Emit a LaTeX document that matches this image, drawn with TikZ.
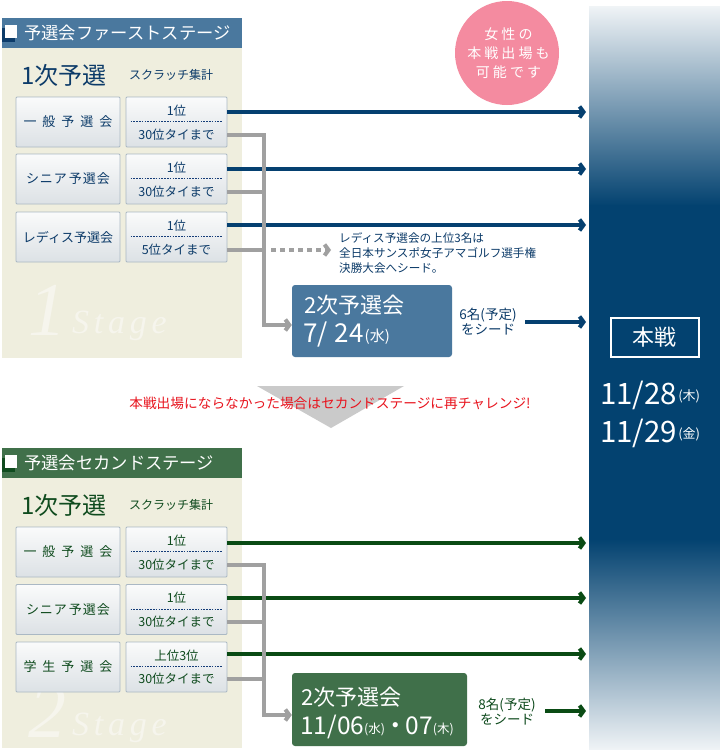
\documentclass[tikz,border=0pt]{standalone}
\usepackage{fontspec}
\setmainfont{Noto Sans CJK JP}
\newfontfamily\wmfont[LetterSpace=6]{Liberation Serif}
\newfontfamily\wmsfont[LetterSpace=14]{Liberation Serif}
\usetikzlibrary{arrows.meta,calc}
\newcommand\fsz[1]{\fontsize{#1}{#1}\selectfont}
\definecolor{navy}{RGB}{12,59,105}
\definecolor{arrowblue}{RGB}{5,64,112}
\definecolor{bardark}{RGB}{3,66,112}
\definecolor{hdrblue}{RGB}{74,120,158}
\definecolor{hdrgreen}{RGB}{64,112,74}
\definecolor{textgreen}{RGB}{15,75,30}
\definecolor{arrowgreen}{RGB}{10,75,20}
\definecolor{beige}{RGB}{239,238,222}
\definecolor{wmark}{RGB}{246,245,237}
\definecolor{greyln}{RGB}{160,160,160}
\definecolor{pinkc}{RGB}{244,139,160}
\definecolor{redc}{RGB}{232,20,30}
\definecolor{tri}{RGB}{202,202,202}
\definecolor{boxtop}{RGB}{250,251,251}
\definecolor{boxbot}{RGB}{220,225,229}
\definecolor{boxline}{RGB}{170,184,196}
\definecolor{dashc}{RGB}{20,60,120}
\tikzset{
  x=1pt, y=-1pt,
  anybox/.style={draw=boxline, line width=0.8pt, top color=boxtop, bottom color=boxbot,
    minimum height=50pt, inner sep=0pt, rounded corners=1pt},
  lbox/.style={anybox, minimum width=104pt, font=\fsz{13}},
  rbox/.style={anybox, minimum width=101pt},
  rtext/.style={inner sep=0pt, font=\fsz{12.5}},
  hdrtext/.style={anchor=west, text=white, font=\fsz{17.3}, inner sep=0pt},
  bigtext/.style={anchor=west, font=\fsz{24}, inner sep=0pt},
  smalltext/.style={anchor=west, font=\fsz{12}, inner sep=0pt},
  tip/.style={-{Straight Barb[length=4pt,width=11pt]}},
  bluearr/.style={draw=arrowblue, line width=4pt, tip},
  greenarr/.style={draw=arrowgreen, line width=4pt, tip},
  greyline/.style={draw=greyln, line width=4pt},
  greyarr/.style={greyline, tip},
  greydot/.style={greyline, dash pattern=on 5pt off 4pt, tip},
  dashln/.style={draw=dashc, line width=0.7pt, dash pattern=on 1.6pt off 1.2pt},
  wmbig/.style={text=wmark, font=\wmfont\itshape\fsz{76}, inner sep=0pt, anchor=base west},
  wmsmall/.style={text=wmark, font=\wmsfont\itshape\fsz{34}, inner sep=0pt, anchor=base west},
  qbox/.style={rounded corners=3pt, inner sep=0pt},
  seedtext/.style={align=center, font=\fontsize{13.5}{15}\selectfont, inner sep=0pt}
}
\begin{document}
\begin{tikzpicture}
\useasboundingbox (0,0) rectangle (720,750);
\fill[white] (0,0) rectangle (720,750);

% ---------- right bar ----------
\shade[top color=white!94!bardark, bottom color=bardark] (589,6) rectangle (720,206);
\fill[bardark] (589,205) rectangle (720,540);
\shade[top color=bardark, bottom color=white!94!bardark] (589,539) rectangle (720,750);

% ---------- stage 1 panel ----------
\fill[beige] (2,48) rectangle (242,358);
\fill[hdrblue] (2,18) rectangle (242,48);
\fill[navy] (2,28) rectangle (15,42);
\fill[white] (5,25) rectangle (17,38);
\node[hdrtext] (h1) at (24,33) {予選会ファーストステージ};
\node[wmbig] (w1) at (28,335) {1};
\node[wmsmall] (w1s) at (72,333) {Stage};
\node[bigtext, text=navy] (p1) at (21,75) {1次予選};
\node[smalltext, text=navy] (sc1) at (129,75) {スクラッチ集計};

\node[lbox, text=navy] (l1) at (68,122) {一\kern6pt 般\kern6pt 予\kern6pt 選\kern6pt 会};
\node[lbox, text=navy] (l2) at (68,179) {シ\kern1pt ニ\kern1pt ア\kern2pt 予\kern1pt 選\kern1pt 会};
\node[lbox, text=navy] (l3) at (68,237) {レディス予選会};
\node[rbox] (r1) at (176.5,122) {};
\node[rbox] (r2) at (176.5,179) {};
\node[rbox] (r3) at (176.5,237) {};
\foreach \r in {r1,r2,r3} \draw[dashln] ($(\r.west)+(5,-0.5)$) -- ($(\r.east)+(-5,-0.5)$);
\node[rtext, text=navy] (r1t) at (176.5,111) {1位};
\node[rtext, text=navy] (r1b) at (176.5,135) {30位タイまで};
\node[rtext, text=navy] (r2t) at (176.5,168) {1位};
\node[rtext, text=navy] (r2b) at (176.5,192) {30位タイまで};
\node[rtext, text=navy] (r3t) at (176.5,226) {1位};
\node[rtext, text=navy] (r3b) at (176.5,250) {5位タイまで};

% stage 1 2nd qualifier
\node[qbox, fill=hdrblue, minimum width=160pt, minimum height=72pt] (q1) at (372,321) {};
\node[anchor=west, text=white, font=\fsz{22}, inner sep=0pt] (q1a) at (304,305) {2次予選会};
\node[anchor=west, text=white, inner sep=0pt] (q1b) at (303,334) {\fsz{26}7/\kern7pt 24\kern1pt\raisebox{1pt}{\fsz{15}(水)}};
\node[seedtext, text=navy] (s1) at (488,322) {6名(予定)\\をシード};

% lady note
\node[anchor=north west, align=left, text=navy, font=\fontsize{11.6}{15}\selectfont, inner sep=0pt] (lady) at (339,232)
  {レディス予選会の上位3名は\\全日本サンスポ女子アマゴルフ選手権\\決勝大会へシード。};

% stage 1 connectors
\coordinate (e1) at (586,112);
\coordinate (e2) at (586,169);
\coordinate (e3) at (586,225);
\coordinate (e4) at (586,322);
\coordinate (k1) at (264,325);
\coordinate (d1) at (331,250);
\draw[bluearr] (r1.east |- e1) -- (e1);
\draw[bluearr] (r2.east |- e2) -- (e2);
\draw[bluearr] (r3.east |- e3) -- (e3);
\draw[greyline] (r2.east |- r2b) -- (r2b -| k1);
\draw[greyline] (r3.east |- r3b) -- (r3b -| k1);
\draw[greyarr] (r1.east |- r1b) -| (k1) -- (k1 -| q1.west);
\draw[greydot] ($(r3b -| k1)+(7,0)$) -- (d1);
\draw[bluearr] (525,322) -- (e4);

% pink circle
\node[circle, fill=pinkc, minimum size=104pt, inner sep=0pt, align=center, text=white,
  font=\fontsize{14}{19}\selectfont\addfontfeature{LetterSpace=22}] (pc) at (507,53)
  {\kern3pt 女性の\\\kern3pt 本戦出場も\\\kern3pt 可能です};

% main event
\node[draw=white, line width=2pt, minimum width=88pt, minimum height=39pt, inner sep=0pt, text=white, font=\fsz{22}] (hs) at (654.5,337) {本戦};
\node[anchor=west, text=white, inner sep=0pt] (d28) at (600,395) {\fsz{29.5}11/28\kern1pt\raisebox{4pt}{\fsz{13}(木)}};
\node[anchor=west, text=white, inner sep=0pt] (d29) at (600,433) {\fsz{29.5}11/29\kern1pt\raisebox{4pt}{\fsz{13}(金)}};

% down triangle + message
\fill[tri] (257,386) -- (404,386) -- (331,428) -- cycle;
\node[text=redc, font=\fsz{13.7}, inner sep=0pt] (msg) at (330,403) {本戦出場にならなかった場合はセカンドステージに再チャレンジ!};

% ---------- stage 2 panel ----------
\fill[beige] (2,478) rectangle (242,748);
\fill[hdrgreen] (2,448) rectangle (242,478);
\fill[textgreen] (2,458) rectangle (15,472);
\fill[white] (5,455) rectangle (17,468);
\node[hdrtext] (h2) at (24,463) {予選会セカンドステージ};
\node[wmbig] (w2) at (28,737) {2};
\node[wmsmall] (w2s) at (72,735) {Stage};
\node[bigtext, text=textgreen] (p2) at (21,505) {1次予選};
\node[smalltext, text=textgreen] (sc2) at (129,505) {スクラッチ集計};

\node[lbox, text=textgreen] (m1) at (68,552) {一\kern6pt 般\kern6pt 予\kern6pt 選\kern6pt 会};
\node[lbox, text=textgreen] (m2) at (68,609.5) {シ\kern1pt ニ\kern1pt ア\kern2pt 予\kern1pt 選\kern1pt 会};
\node[lbox, text=textgreen] (m3) at (68,667) {学\kern6pt 生\kern6pt 予\kern6pt 選\kern6pt 会};
\node[rbox] (g1) at (176.5,552) {};
\node[rbox] (g2) at (176.5,609.5) {};
\node[rbox] (g3) at (176.5,667) {};
\foreach \r in {g1,g2,g3} \draw[dashln] ($(\r.west)+(5,-0.5)$) -- ($(\r.east)+(-5,-0.5)$);
\node[rtext, text=textgreen] (g1t) at (176.5,541) {1位};
\node[rtext, text=textgreen] (g1b) at (176.5,565) {30位タイまで};
\node[rtext, text=textgreen] (g2t) at (176.5,598) {1位};
\node[rtext, text=textgreen] (g2b) at (176.5,622) {30位タイまで};
\node[rtext, text=textgreen] (g3t) at (176.5,656) {上位3位};
\node[rtext, text=textgreen] (g3b) at (176.5,679) {30位タイまで};

\node[qbox, fill=hdrgreen, minimum width=175pt, minimum height=73pt] (q2) at (379.5,709.5) {};
\node[anchor=west, text=white, font=\fsz{22}, inner sep=0pt] (q2a) at (301,697) {2次予選会};
\node[anchor=west, text=white, inner sep=0pt] (q2b) at (300,727) {\fsz{24.5}11/06\raisebox{1pt}{\fsz{12.5}(水)}\kern-2pt・\kern-2pt 07\raisebox{1pt}{\fsz{12.5}(木)}};
\node[seedtext, text=textgreen] (s2) at (507,712) {8名(予定)\\をシード};

\coordinate (f1) at (586,543);
\coordinate (f2) at (586,598);
\coordinate (f3) at (586,654);
\coordinate (f4) at (586,711);
\coordinate (k2) at (264,715);
\draw[greenarr] (g1.east |- f1) -- (f1);
\draw[greenarr] (g2.east |- f2) -- (f2);
\draw[greenarr] (g3.east |- f3) -- (f3);
\draw[greyline] (g2.east |- g2b) -- (g2b -| k2);
\draw[greyline] (g3.east |- g3b) -- (g3b -| k2);
\draw[greyarr] (g1.east |- g1b) -| (k2) -- (k2 -| q2.west);
\draw[greenarr] (545,711) -- (f4);
\end{tikzpicture}
\end{document}
